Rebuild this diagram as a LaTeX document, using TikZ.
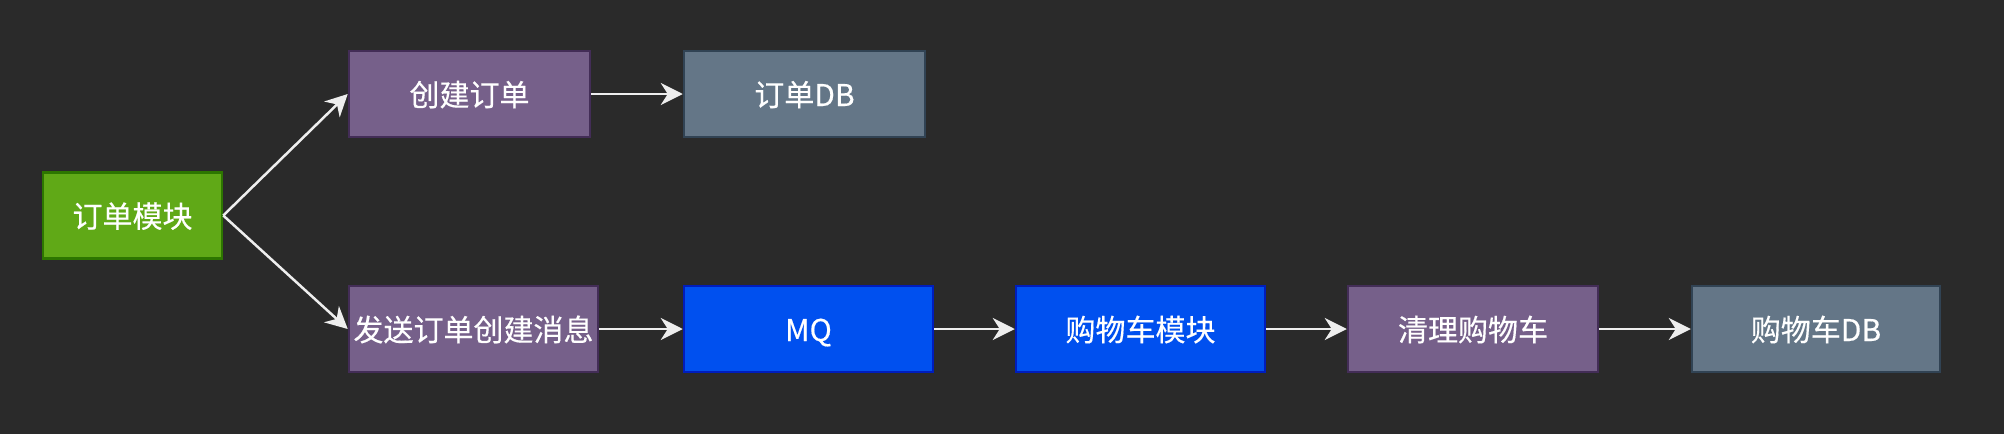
\documentclass[tikz,border=0pt]{standalone}
\usepackage{fontspec}
\newfontfamily\cjk[BoldFont={Noto Sans CJK SC},BoldFeatures={FakeBold=0.4}]{Noto Sans CJK SC}
\usetikzlibrary{arrows.meta}
\definecolor{bg}{HTML}{2A2A2A}
\definecolor{gfill}{HTML}{60A917}\definecolor{gline}{HTML}{2D7600}
\definecolor{pfill}{HTML}{76608A}\definecolor{pline}{HTML}{432D57}
\definecolor{bfill}{HTML}{0050EF}\definecolor{bline}{HTML}{001DBC}
\definecolor{sfill}{HTML}{647687}\definecolor{sline}{HTML}{314354}
\definecolor{arrc}{HTML}{EEEEEE}
\tikzset{
  box/.style={rectangle, line width=2.5pt, minimum height=86pt, text=white,
    font=\cjk\bfseries\fontsize{30}{36}\selectfont, inner sep=0pt, text depth=0pt, text height=24pt},
  green/.style={box, fill=gfill, draw=gline},
  purple/.style={box, fill=pfill, draw=pline},
  blue/.style={box, fill=bfill, draw=bline},
  slate/.style={box, fill=sfill, draw=sline},
  arr/.style={draw=arrc, line width=2.5pt, -{Stealth[length=22pt,width=22pt,inset=7pt]}}
}
\begin{document}
\begin{tikzpicture}[x=1pt,y=-1pt]
\fill[bg] (0,0) rectangle (2004,434);
\useasboundingbox (0,0) rectangle (2004,434);
\node[green, minimum width=179pt] (a) at (132.5,215.5) {订单模块};
\node[purple, minimum width=241pt] (b) at (469.5,94) {创建订单};
\node[slate, minimum width=241pt] (c) at (804.5,94) {订单DB};
\node[purple, minimum width=249pt] (d) at (473.5,329) {发送订单创建消息};
\node[blue, minimum width=249pt] (e) at (808.5,329) {MQ};
\node[blue, minimum width=249pt] (f) at (1140.5,329) {购物车模块};
\node[purple, minimum width=250pt] (g) at (1473,329) {清理购物车};
\node[slate, minimum width=248pt] (h) at (1816,329) {购物车DB};
\draw[arr] (a.east) -- (b.west);
\draw[arr] (a.east) -- (d.west);
\draw[arr] (b.east) -- (c.west);
\draw[arr] (d.east) -- (e.west);
\draw[arr] (e.east) -- (f.west);
\draw[arr] (f.east) -- (g.west);
\draw[arr] (g.east) -- (h.west);
\end{tikzpicture}
\end{document}
